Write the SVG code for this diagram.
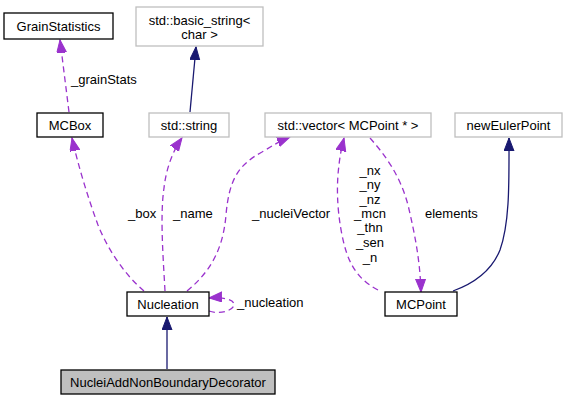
<svg xmlns="http://www.w3.org/2000/svg" width="565" height="400" viewBox="0 0 565 400">
<style>
text{font-family:"Liberation Sans",Arial,sans-serif;font-size:13px;fill:#000}
.c{text-anchor:middle}
.doc{fill:#fff;stroke:#000;stroke-width:1.3}
.ext{fill:#fff;stroke:#bfbfbf;stroke-width:1.3}
.cur{fill:#bfbfbf;stroke:#000;stroke-width:1.3}
.use{fill:none;stroke:#9a32cd;stroke-width:1.3;stroke-dasharray:6,4;marker-end:url(#ap)}
.inh{fill:none;stroke:#191970;stroke-width:1.3;marker-end:url(#an)}
</style>
<defs>
<marker id="ap" markerUnits="userSpaceOnUse" markerWidth="16" markerHeight="12" refX="13" refY="5" orient="auto">
<path d="M0,0 L13,5 L0,10 Z" fill="#9a32cd" stroke="#9a32cd" stroke-width="1"/>
</marker>
<marker id="an" markerUnits="userSpaceOnUse" markerWidth="16" markerHeight="12" refX="13" refY="5" orient="auto">
<path d="M0,0 L13,5 L0,10 Z" fill="#191970" stroke="#191970" stroke-width="1"/>
</marker>
</defs>
<g id="edges">
<path class="inh" d="M167,369 L167,317"/>
<path class="inh" d="M190,112 L196,47"/>
<path class="use" d="M69,112 L60,40"/>
<path class="use" d="M144,291 C125,275 108,250 98,225 C88,198 78,165 72,138"/>
<path class="use" d="M165,291 C163,255 160,215 164,188 C166,170 172,152 182,138"/>
<path class="use" d="M187,291 C210,272 223,250 226,215 C229,180 238,165 262,152 C272,146 280,141 290,137"/>
<path class="use" d="M378,290 C355,278 347,260 342,235 C336,205 337,180 339,165 C340,155 342,146 344,138"/>
<path class="use" d="M370,138 C385,155 400,175 408,205 C415,235 420,260 421,292"/>
<path class="use" d="M209,311 C220,315 235,310 234,304 C233,299 222,297 209,298"/>
<path class="inh" d="M453,291 C475,283 492,270 500,250 C510,222 509,180 509,138"/>
<text x="71" y="84">_grainStats</text>
<text x="128" y="218">_box</text>
<text x="173" y="218">_name</text>
<text x="252" y="218">_nucleiVector</text>
<text x="237" y="307">_nucleation</text>
<text class="c" x="370" y="174.5">_nx</text>
<text class="c" x="370" y="189">_ny</text>
<text class="c" x="370" y="203.5">_nz</text>
<text class="c" x="370" y="218">_mcn</text>
<text class="c" x="370" y="232">_thn</text>
<text class="c" x="370" y="247">_sen</text>
<text class="c" x="370" y="262">_n</text>
<text x="425" y="218">elements</text>
</g>
<g id="GrainStatistics"><rect class="doc" x="4" y="13" width="109" height="26"/><text class="c" x="58.5" y="30.5">GrainStatistics</text></g>
<g id="basic_string"><rect class="ext" x="136" y="7" width="127" height="39"/><text class="c" x="199.5" y="25">std::basic_string&lt;</text><text class="c" x="199.5" y="39">char &gt;</text></g>
<g id="MCBox"><rect class="doc" x="37" y="113" width="66" height="24"/><text class="c" x="70" y="129.5">MCBox</text></g>
<g id="string"><rect class="ext" x="149" y="113" width="80" height="24"/><text class="c" x="189" y="129.5">std::string</text></g>
<g id="vector"><rect class="ext" x="265" y="113" width="166" height="24"/><text class="c" x="348" y="129.5">std::vector&lt; MCPoint * &gt;</text></g>
<g id="newEulerPoint"><rect class="ext" x="455" y="113" width="107" height="24"/><text class="c" x="508.5" y="129.5">newEulerPoint</text></g>
<g id="Nucleation"><rect class="doc" x="127" y="292" width="82" height="24"/><text class="c" x="168" y="308.5">Nucleation</text></g>
<g id="MCPoint"><rect class="doc" x="385" y="292" width="72" height="24"/><text class="c" x="421" y="308.5">MCPoint</text></g>
<g id="NucleiAddNonBoundaryDecorator"><rect class="cur" x="61" y="370" width="214" height="24"/><text class="c" x="168" y="386.5">NucleiAddNonBoundaryDecorator</text></g>
</svg>
